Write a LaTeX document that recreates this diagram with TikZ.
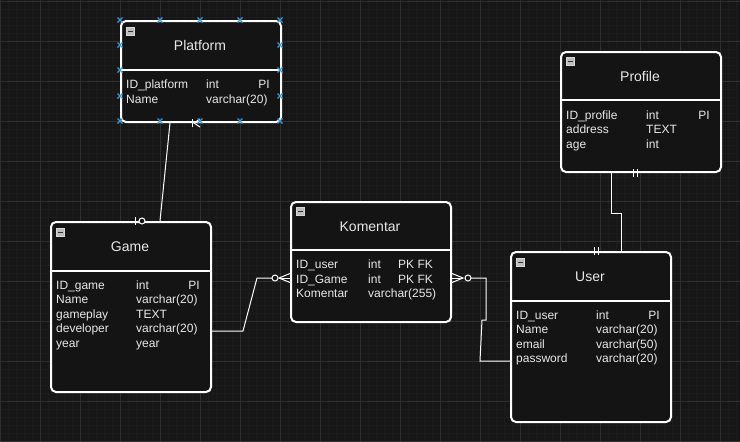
\documentclass[tikz,border=0pt]{standalone}
\usepackage{fontspec}
\setmainfont{Liberation Sans}
\usetikzlibrary{calc}

\definecolor{canvas}{HTML}{171717}
\definecolor{gridmajor}{HTML}{2F2F2F}
\definecolor{gridminor}{HTML}{1C1C1C}
\definecolor{boxfill}{HTML}{141414}
\definecolor{ink}{HTML}{E8E8E8}
\definecolor{handle}{HTML}{3A9AD8}
\definecolor{icon}{HTML}{BDBDBD}

\tikzset{
  entity/.style={draw=white, line width=2pt, fill=boxfill, rounded corners=5pt,
    inner sep=0pt, anchor=north west},
  divider/.style={draw=white, line width=2pt},
  etitle/.style={text=ink, font=\fontsize{14}{16}\selectfont, inner sep=0pt, anchor=base},
  field/.style={text=ink, font=\fontsize{12}{14}\selectfont, inner sep=0pt, anchor=base west},
  keytag/.style={field, anchor=base east},
  minusicon/.style={draw=icon!60!white, fill=icon, line width=0.6pt, minimum size=8pt,
    inner sep=0pt, anchor=north west,
    path picture={\draw[black!80, line width=1pt]
      ($(path picture bounding box.west)+(1.8pt,0)$) -- ($(path picture bounding box.east)+(-1.8pt,0)$);}},
  link/.style={draw=white, line width=1pt},
  endmark/.style={draw=white, line width=1pt},
  ring/.style={draw=white, fill=boxfill, line width=1pt},
  handlemark/.style={draw=handle, line width=1.3pt},
}

\begin{document}
\begin{tikzpicture}[x=1pt, y=-1pt]
  \useasboundingbox (0,0) rectangle (740,442);

  % canvas and grid
  \fill[canvas] (0,0) rectangle (740,442);
  \foreach \gx in {0,8,...,736} \draw[gridminor, line width=0.6pt] (\gx,0) -- (\gx,442);
  \foreach \gy in {1,9,...,441} \draw[gridminor, line width=0.6pt] (0,\gy) -- (740,\gy);
  \foreach \gx in {0,40,...,720} \draw[gridmajor, line width=0.8pt] (\gx,0) -- (\gx,442);
  \foreach \gy in {1,41,...,441} \draw[gridmajor, line width=0.8pt] (0,\gy) -- (740,\gy);

  % ---------------- Platform
  \node[entity, minimum width=160pt, minimum height=101pt] (plat) at (120,20) {};
  \draw[divider] ($(plat.north west)+(0,50)$) -- ($(plat.north east)+(0,50)$);
  \node[minusicon] (plat-min) at (126,27) {};
  \node[etitle] (plat-t) at (200,50) {Platform};
  \node[field] (plat-1a) at (126,88) {ID\_platform};
  \node[field] (plat-1b) at (206,88) {int};
  \node[keytag] (plat-1c) at (270,88) {PI};
  \node[field] (plat-2a) at (126,103) {Name};
  \node[field] (plat-2b) at (206,103) {varchar(20)};

  % ---------------- Profile
  \node[entity, minimum width=160pt, minimum height=120pt] (prof) at (560,51) {};
  \draw[divider] ($(prof.north west)+(0,49)$) -- ($(prof.north east)+(0,49)$);
  \node[minusicon] (prof-min) at (566,57) {};
  \node[etitle] (prof-t) at (640,81) {Profile};
  \node[field] (prof-1a) at (566,119) {ID\_profile};
  \node[field] (prof-1b) at (646,119) {int};
  \node[keytag] (prof-1c) at (710,119) {PI};
  \node[field] (prof-2a) at (566,133) {address};
  \node[field] (prof-2b) at (646,133) {TEXT};
  \node[field] (prof-3a) at (566,148) {age};
  \node[field] (prof-3b) at (646,148) {int};

  % ---------------- Game
  \node[entity, minimum width=160pt, minimum height=170pt] (game) at (50,221) {};
  \draw[divider] ($(game.north west)+(0,50)$) -- ($(game.north east)+(0,50)$);
  \node[minusicon] (game-min) at (56,228) {};
  \node[etitle] (game-t) at (130,251) {Game};
  \node[field] (game-1a) at (56,289) {ID\_game};
  \node[field] (game-1b) at (136,289) {int};
  \node[keytag] (game-1c) at (200,289) {PI};
  \node[field] (game-2a) at (56,303) {Name};
  \node[field] (game-2b) at (136,303) {varchar(20)};
  \node[field] (game-3a) at (56,318) {gameplay};
  \node[field] (game-3b) at (136,318) {TEXT};
  \node[field] (game-4a) at (56,332) {developer};
  \node[field] (game-4b) at (136,332) {varchar(20)};
  \node[field] (game-5a) at (56,347) {year};
  \node[field] (game-5b) at (136,347) {year};

  % ---------------- Komentar
  \node[entity, minimum width=160pt, minimum height=120pt] (kom) at (290,201) {};
  \draw[divider] ($(kom.north west)+(0,49)$) -- ($(kom.north east)+(0,49)$);
  \node[minusicon] (kom-min) at (296,207) {};
  \node[etitle] (kom-t) at (370,231) {Komentar};
  \node[field] (kom-1a) at (296,268.5) {ID\_user};
  \node[field] (kom-1b) at (368,268.5) {int};
  \node[field] (kom-1c) at (398,268.5) {PK FK};
  \node[field] (kom-2a) at (296,283) {ID\_Game};
  \node[field] (kom-2b) at (368,283) {int};
  \node[field] (kom-2c) at (398,283) {PK FK};
  \node[field] (kom-3a) at (296,297.5) {Komentar};
  \node[field] (kom-3b) at (368,297.5) {varchar(255)};

  % ---------------- User
  \node[entity, minimum width=160pt, minimum height=170pt] (user) at (510,251) {};
  \draw[divider] ($(user.north west)+(0,50)$) -- ($(user.north east)+(0,50)$);
  \node[minusicon] (user-min) at (516,258) {};
  \node[etitle] (user-t) at (590,281) {User};
  \node[field] (user-1a) at (516,319) {ID\_user};
  \node[field] (user-1b) at (596,319) {int};
  \node[keytag] (user-1c) at (660,319) {PI};
  \node[field] (user-2a) at (516,333) {Name};
  \node[field] (user-2b) at (596,333) {varchar(20)};
  \node[field] (user-3a) at (516,348) {email};
  \node[field] (user-3b) at (596,348) {varchar(50)};
  \node[field] (user-4a) at (516,362) {password};
  \node[field] (user-4b) at (596,362) {varchar(20)};

  % ---------------- Platform -- Game
  \draw[link] ($(plat.south west)+(50,0)$) -- ($(game.north west)+(110,0)$);
  \coordinate (pg-plat) at ($(plat.south west)+(74,0)$);
  \draw[endmark] ($(pg-plat)+(-2,-4)$) -- ($(pg-plat)+(-2,4)$);
  \draw[endmark] ($(pg-plat)+(6,-4)$) -- (pg-plat) -- ($(pg-plat)+(6,4)$);
  \coordinate (pg-game) at ($(game.north west)+(85,0)$);
  \draw[endmark] ($(pg-game)+(0,-4)$) -- ($(pg-game)+(0,4)$);
  \draw[ring] ($(pg-game)+(7,0)$) circle (3);

  % ---------------- Game -- Komentar
  \coordinate (gk-a) at ($(game.north east)+(31,110)$);
  \coordinate (gk-b) at ($(kom.north west)+(-33,77)$);
  \coordinate (gk-k) at ($(kom.north west)+(0,77)$);
  \draw[link] ($(game.north east)+(0,110)$) -- (gk-a) -- (gk-b) -- ($(gk-k)+(-18,0)$);
  \draw[ring] ($(gk-k)+(-15,0)$) circle (3);
  \draw[endmark] ($(gk-k)+(0,-4.5)$) -- ($(gk-k)+(-11,0)$) -- ($(gk-k)+(0,4.5)$);
  \draw[endmark] ($(gk-k)+(-11,0)$) -- (gk-k);

  % ---------------- Komentar -- User
  \coordinate (ku-k) at ($(kom.north east)+(0,77)$);
  \coordinate (ku-a) at ($(kom.north east)+(34,77)$);
  \coordinate (ku-b) at ($(kom.north east)+(34,119)$);
  \coordinate (ku-c) at ($(kom.north east)+(30,119)$);
  \coordinate (ku-d) at ($(user.north west)+(-30,110)$);
  \draw[endmark] ($(ku-k)+(0,-4.5)$) -- ($(ku-k)+(11,0)$) -- ($(ku-k)+(0,4.5)$);
  \draw[endmark] (ku-k) -- ($(ku-k)+(11,0)$);
  \draw[ring] ($(ku-k)+(16,0)$) circle (3);
  \draw[link] ($(ku-k)+(19,0)$) -- (ku-a) -- (ku-b) -- (ku-c) -- (ku-d)
    -- ($(user.north west)+(0,110)$);

  % ---------------- Profile -- User
  \coordinate (pu-a) at ($(prof.south west)+(51,40)$);
  \coordinate (pu-b) at ($(prof.south west)+(61,40)$);
  \draw[link] ($(prof.south west)+(51,0)$) -- (pu-a) -- (pu-b) -- ($(user.north west)+(111,0)$);
  \coordinate (pu-prof) at ($(prof.south west)+(73,0)$);
  \draw[endmark] ($(pu-prof)+(0,-4)$) -- ($(pu-prof)+(0,4)$);
  \draw[endmark] ($(pu-prof)+(4,-4)$) -- ($(pu-prof)+(4,4)$);
  \coordinate (pu-user) at ($(user.north west)+(84,0)$);
  \draw[endmark] ($(pu-user)+(0,-4)$) -- ($(pu-user)+(0,4)$);
  \draw[endmark] ($(pu-user)+(4,-4)$) -- ($(pu-user)+(4,4)$);

  % ---------------- selection handles on Platform
  \foreach \hx/\hy in {120/20,160/20,200/20,240/20,280/20,
                       120/45,280/45,120/70,280/70,120/96,280/96,
                       120/121,160/121,200/121,240/121,280/121}
    \draw[handlemark] (\hx-2.5,\hy-2.5) -- (\hx+2.5,\hy+2.5)
                      (\hx-2.5,\hy+2.5) -- (\hx+2.5,\hy-2.5);
\end{tikzpicture}
\end{document}
